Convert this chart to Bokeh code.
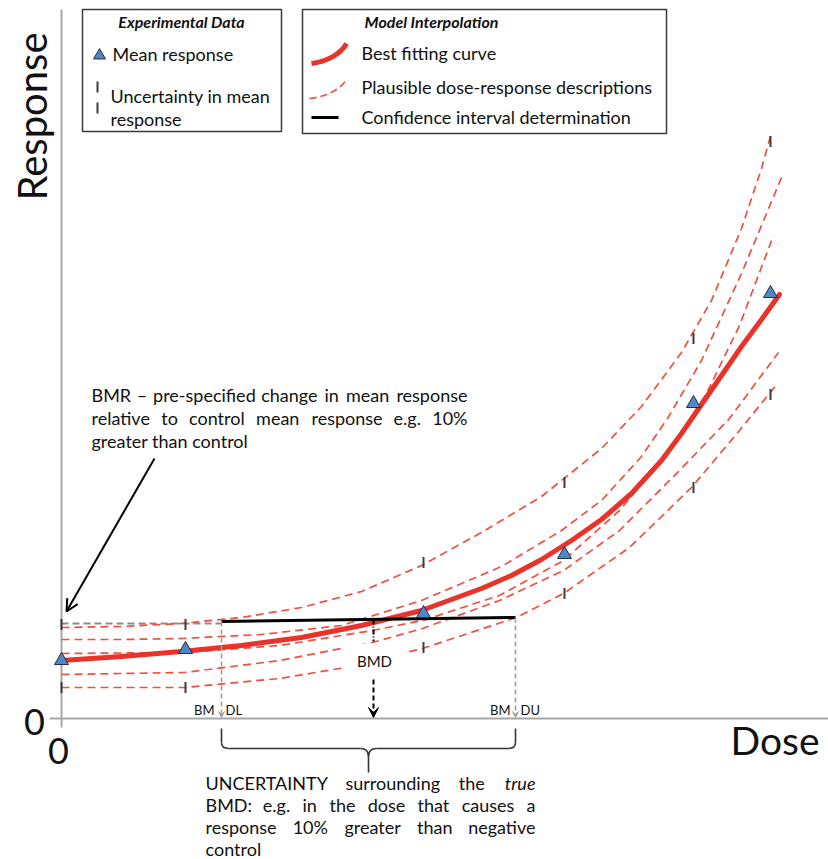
import numpy as np
from bokeh.plotting import figure
from bokeh.models import Range1d, Label, Arrow, VeeHead, OpenHead
from bokeh.embed import file_html
from bokeh.resources import INLINE

# ---------------- data (arbitrary dose / response units) ----------------
doses = [0, 124, 362, 503, 632, 709]
mean_response = [58, 69, 105, 164, 315, 425]
unc_upper = [94, 94, 156, 236, 380, 577]
unc_lower = [31, 31, 71, 125, 231, 324]

best_fit_dose = [0, 60, 120, 180, 240, 300, 360, 420, 450, 480, 510, 540, 570, 600, 620, 640, 660, 680, 700, 718]
best_fit_resp = [58, 62, 67, 73, 81, 93, 108, 130, 143, 159, 178, 199, 225, 258, 285, 314, 343, 372, 399, 424]

plaus1_dose = [0, 60, 120, 180, 240, 300, 360, 420, 480, 540, 580, 620, 650, 680, 700, 710]
plaus1_resp = [91, 92, 95, 101, 111, 127, 153, 186, 222, 270, 312, 366, 418, 490, 550, 586]
plaus2_dose = [0, 60, 120, 200, 280, 360, 440, 500, 540, 580, 606, 640, 680, 720]
plaus2_resp = [79, 79, 80, 84, 93, 118, 152, 188, 218, 262, 300, 358, 445, 541]
plaus3_dose = [0, 123, 218, 311, 361, 438, 502, 558, 608, 645, 678, 712]
plaus3_resp = [65, 66, 73, 88, 98, 123, 158, 208, 268, 325, 393, 483]
plaus4_dose = [0, 123, 218, 311, 361, 438, 502, 558, 618, 668, 717]
plaus4_resp = [44, 46, 58, 76, 90, 118, 148, 188, 248, 300, 366]
plaus5_dose = [0, 123, 218, 278, 361, 455, 502, 568, 630, 678, 716]
plaus5_resp = [31, 31, 40, 50, 70, 101, 125, 171, 231, 288, 335]
plausible = [(plaus1_dose, plaus1_resp), (plaus2_dose, plaus2_resp), (plaus3_dose, plaus3_resp),
             (plaus4_dose, plaus4_resp), (plaus5_dose, plaus5_resp)]

bmr_response = 95
ci_line_resp = [97, 101]
bmdl, bmd, bmdu = 160, 312, 454

# ---------------- figure ----------------
FONT = "Lato"
RED = "#e8322a"
RED_D = "#f0503f"
TXT = "#111111"

p = figure(width=828, height=859, x_range=Range1d(-61, 767), y_range=Range1d(-141, 718),
           output_backend="svg", toolbar_location=None, min_border=0,
           x_axis_location=None, y_axis_location=None)
p.grid.grid_line_color = None
p.outline_line_color = None
p.background_fill_color = "white"
p.border_fill_color = "white"


def X(px):
    return px - 61


def Y(py):
    return 718 - py


def label(text, px, py, size, align="left", baseline="middle", style="normal", angle=0, color=TXT):
    p.add_layout(Label(x=X(px), y=Y(py), text=text, text_font=FONT, text_font_size=f"{size}px",
                       text_align=align, text_baseline=baseline, text_font_style=style,
                       angle=angle, text_color=color))


CW = {'a': .51, 'b': .56, 'c': .46, 'd': .56, 'e': .52, 'f': .32, 'g': .50, 'h': .56, 'i': .24,
      'j': .24, 'k': .49, 'l': .24, 'm': .84, 'n': .56, 'o': .56, 'p': .56, 'q': .56, 'r': .36,
      's': .42, 't': .34, 'u': .56, 'v': .50, 'w': .76, 'x': .48, 'y': .50, 'z': .44,
      'A': .67, 'B': .62, 'C': .66, 'D': .73, 'E': .55, 'G': .72, 'I': .28, 'M': .88, 'N': .75,
      'R': .62, 'T': .56, 'U': .71, 'Y': .60, '%': .80, '.': .24, ':': .25, '-': .33, '–': .5,
      '0': .58, '1': .58, ' ': .26}


def text_w(s, size):
    return size * sum(CW.get(c, 0.52) for c in s)


def justified(words, left, right, py, size, styles=None):
    ws = [text_w(w, size) for w in words]
    gap = (right - left - sum(ws)) / (len(words) - 1)
    x = left
    for i, w in enumerate(words):
        st = styles[i] if styles else "normal"
        if i == len(words) - 1:
            label(w, right, py, size, align="right", style=st)
        else:
            label(w, x, py, size, style=st)
        x += ws[i] + gap


# axes
AX = "#a6a6a6"
p.segment(x0=[0], y0=[-9], x1=[0], y1=[709], line_color=AX, line_width=2)
p.segment(x0=[-12], y0=[0], x1=[770], y1=[0], line_color=AX, line_width=2)

# BMR grey dashed level
p.line([0, bmdl], [bmr_response, bmr_response], line_color="#8c8c8c", line_width=2, line_dash="7 4")

# plausible curves
for xs, ys in plausible:
    p.line(xs, ys, line_color=RED_D, line_width=1.7, line_dash="8 5", line_join="round")

# best fit
p.line(best_fit_dose, best_fit_resp, line_color=RED, line_width=5, line_cap="round", line_join="round")

# white box behind BMD label
p.quad(left=[X(342)], right=[X(404)], top=[Y(643)], bottom=[Y(677)], fill_color="white", line_color=None)

# confidence interval determination line
p.line([bmdl, bmdu], ci_line_resp, line_color="black", line_width=3)

# BMDL / BMDU verticals
for xv, top in [(bmdl, ci_line_resp[0]), (bmdu, ci_line_resp[1])]:
    p.add_layout(Arrow(end=VeeHead(size=6, fill_color="#a0a0a0", line_color="#a0a0a0"),
                       x_start=xv, y_start=top, x_end=xv, y_end=1,
                       line_color="#a0a0a0", line_width=1.6, line_dash="5 3"))

# BMD vertical
p.line([bmd, bmd], [99, Y(641)], line_color="black", line_width=2, line_dash="5 2 1 2")
p.add_layout(Arrow(end=VeeHead(size=10, fill_color="black", line_color="black"),
                   x_start=bmd, y_start=Y(679), x_end=bmd, y_end=1,
                   line_color="black", line_width=2, line_dash="5 3"))

# uncertainty ticks
half = 5.5
tick_x = doses + doses
tick_y = unc_upper + unc_lower
p.segment(x0=tick_x, y0=[v - half for v in tick_y], x1=tick_x, y1=[v + half for v in tick_y],
          line_color="#3d3d3d", line_width=2)

# mean responses
p.scatter(doses, mean_response, marker="triangle", size=14, fill_color="#4f86c6",
          line_color="#1c2e4a", line_width=1)

# labels on the chart
label("BMD", 374, 660, 15, align="center")
label("BM", 214, 709, 13, align="right")
label("DL", 225, 709, 13)
label("BM", 510, 709, 13, align="right")
label("DU", 520, 709, 13)

label("0", 34, 721, 36, align="center")
label("0", 58, 750, 36, align="center")
label("Dose", 730, 739, 39)
label("Response", 31, 116, 40, align="center", angle=np.pi / 2)

# BMR annotation
justified("BMR – pre-specified change in mean response".split(), 91, 467, 394, 18)
justified("relative to control mean response e.g. 10%".split(), 91, 467, 417, 18)
label("greater than control", 91, 440, 18)
p.add_layout(Arrow(end=OpenHead(size=12, line_width=2, line_color="black"),
                   x_start=X(154), y_start=Y(458), x_end=X(66), y_end=Y(611),
                   line_color="black", line_width=2))

# brace under BMDL..BMDU
L = 61 + bmdl
R = 61 + bmdu
M = (L + R) / 2
BR = "#333333"
p.segment(x0=[X(L), X(R), X(L + 7), X(M + 8), X(M)], y0=[Y(728), Y(728), Y(748), Y(748), Y(756)],
          x1=[X(L), X(R), X(M - 8), X(R - 7), X(M)], y1=[Y(742), Y(742), Y(748), Y(748), Y(772)],
          line_color=BR, line_width=1.6)
p.quadratic(x0=[X(L), X(R), X(M - 8), X(M + 8)], y0=[Y(742), Y(742), Y(748), Y(748)],
            x1=[X(L + 7), X(R - 7), X(M), X(M)], y1=[Y(748), Y(748), Y(756), Y(756)],
            cx=[X(L), X(R), X(M), X(M)], cy=[Y(748), Y(748), Y(748), Y(748)],
            line_color=BR, line_width=1.6)

justified(["UNCERTAINTY", "surrounding", "the", "true"], 205, 535, 782, 18,
          styles=["normal", "normal", "normal", "italic"])
justified("BMD: e.g. in the dose that causes a".split(), 205, 535, 804, 18)
justified("response 10% greater than negative".split(), 205, 535, 826, 18)
label("control", 205, 848, 18)

# legend boxes (glyphs, so legend marks drawn afterwards sit on top)
p.quad(left=[X(82), X(302)], right=[X(281), X(666)], top=[Y(9), Y(9)], bottom=[Y(131), Y(133)],
       fill_color="white", line_color="#3a3a3a", line_width=1.5)

label("Experimental Data", 181, 21, 16, align="center", style="bold italic")
p.scatter([X(99)], [Y(55)], marker="triangle", size=12, fill_color="#4f86c6", line_color="#1c2e4a")
label("Mean response", 112, 53, 18)
p.segment(x0=[X(97), X(97)], y0=[Y(81), Y(102)], x1=[X(97), X(97)], y1=[Y(92), Y(113)],
          line_color="#3d3d3d", line_width=2)
label("Uncertainty in mean", 110, 95, 18)
label("response", 110, 118, 18)

label("Model Interpolation", 431, 21, 16, align="center", style="bold italic")
p.bezier(x0=[X(311)], y0=[Y(63)], x1=[X(346)], y1=[Y(43)], cx0=[X(326)], cy0=[Y(61)],
         cx1=[X(340)], cy1=[Y(54)], line_color=RED, line_width=5)
label("Best fitting curve", 361, 52, 18)
p.bezier(x0=[X(309)], y0=[Y(98)], x1=[X(346)], y1=[Y(79)], cx0=[X(326)], cy0=[Y(96)],
         cx1=[X(340)], cy1=[Y(89)], line_color=RED_D, line_width=1.6, line_dash="7 4")
label("Plausible dose-response descriptions", 361, 86, 18)
p.segment(x0=[X(311)], y0=[Y(117)], x1=[X(338)], y1=[Y(117)], line_color="black", line_width=3)
label("Confidence interval determination", 361, 116, 18)

open("out.html", "w").write(file_html(p, INLINE))
